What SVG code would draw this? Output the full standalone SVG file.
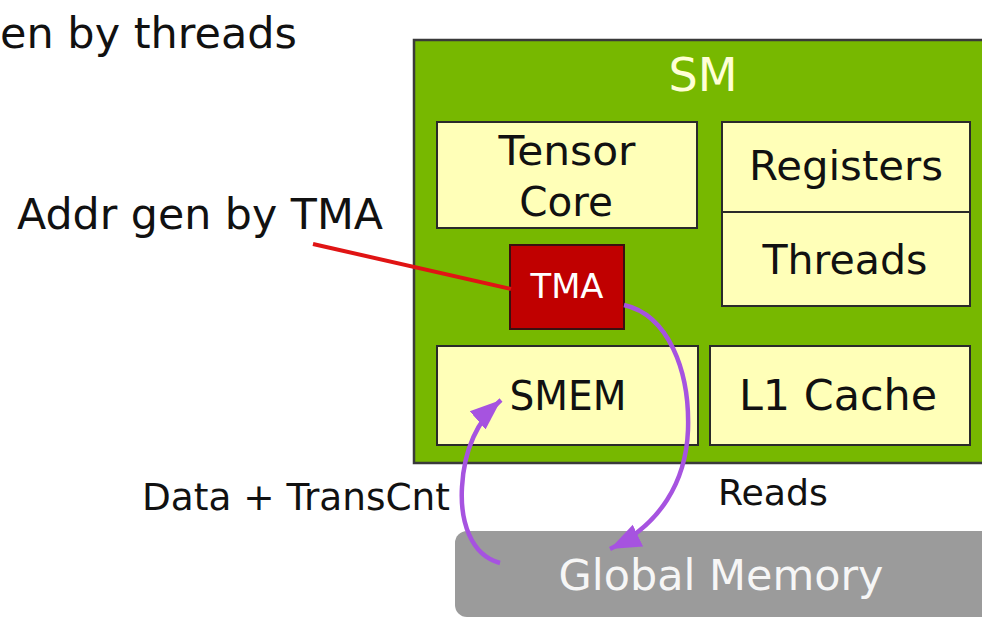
<svg xmlns="http://www.w3.org/2000/svg" width="982" height="618" viewBox="0 0 982 618">
<defs>
<style>
.t{font-family:"DejaVu Sans","Liberation Sans",sans-serif;fill:#111;}
.c{text-anchor:middle;}
.box{fill:#ffffb8;stroke:#2a2a2a;stroke-width:2;}
.arc{fill:none;stroke:#a653e0;stroke-width:4.5;}
</style>
<marker id="ah" markerUnits="userSpaceOnUse" markerWidth="34" markerHeight="34" viewBox="0 0 34 34" refX="31" refY="17" orient="auto">
<path d="M0,5 L31,17 L0,29 Z" fill="#a653e0"/>
</marker>
</defs>
<rect width="982" height="618" fill="#ffffff"/>

<g id="label-threads">
<text class="t" x="0" y="48" font-size="42.8" textLength="297" lengthAdjust="spacingAndGlyphs">en by threads</text>
</g>
<g id="label-tma">
<text class="t" x="17" y="229" font-size="42.6" textLength="366" lengthAdjust="spacingAndGlyphs">Addr gen by TMA</text>
</g>

<g id="sm">
<rect x="414" y="40" width="600" height="423" fill="#77b800" stroke="#3a3a3a" stroke-width="2.5"/>
<text class="t c" x="703" y="91" font-size="46" style="fill:#ffffd6" textLength="69" lengthAdjust="spacingAndGlyphs">SM</text>
</g>

<g id="tensor-core">
<rect class="box" x="437" y="122" width="260" height="106"/>
<text class="t c" x="567" y="165" font-size="40.5" textLength="137" lengthAdjust="spacingAndGlyphs">Tensor</text>
<text class="t c" x="566" y="216" font-size="40.5">Core</text>
</g>

<g id="registers">
<rect class="box" x="722" y="122" width="248" height="90"/>
<text class="t c" x="846" y="180" font-size="41" textLength="194" lengthAdjust="spacingAndGlyphs">Registers</text>
</g>
<g id="threads">
<rect class="box" x="722" y="212" width="248" height="94"/>
<text class="t c" x="845" y="274" font-size="41" textLength="165" lengthAdjust="spacingAndGlyphs">Threads</text>
</g>

<g id="tma">
<rect x="510" y="245" width="114" height="84" fill="#c00000" stroke="#3a1010" stroke-width="2"/>
<text class="t c" x="567" y="298" font-size="33.8" style="fill:#ffffff" textLength="73" lengthAdjust="spacingAndGlyphs">TMA</text>
</g>

<g id="smem">
<rect class="box" x="437" y="346" width="261" height="99"/>
<text class="t c" x="568" y="410" font-size="40" textLength="117" lengthAdjust="spacingAndGlyphs">SMEM</text>
</g>

<g id="l1-cache">
<rect class="box" x="710" y="346" width="260" height="99"/>
<text class="t c" x="838" y="410" font-size="42" textLength="198" lengthAdjust="spacingAndGlyphs">L1 Cache</text>
</g>

<g id="global-memory">
<rect x="455" y="531" width="540" height="86" rx="12" ry="12" fill="#9b9b9b"/>
<text class="t c" x="721" y="590" font-size="42.9" style="fill:#f6f6f6" textLength="325" lengthAdjust="spacingAndGlyphs">Global Memory</text>
</g>

<g id="label-data">
<text class="t" x="142" y="510" font-size="36.8" textLength="308" lengthAdjust="spacingAndGlyphs">Data + TransCnt</text>
</g>
<g id="label-reads">
<text class="t" x="718" y="505" font-size="35.7" textLength="110" lengthAdjust="spacingAndGlyphs">Reads</text>
</g>

<g id="connectors">
<line x1="313" y1="244" x2="511" y2="289" stroke="#e01414" stroke-width="4"/>
<path class="arc" d="M624,305 C668,315 690,370 688,430 C686,482 660,525 610,549" marker-end="url(#ah)"/>
<path class="arc" d="M500,563 C470,555 460,520 462,487 C464,450 478,420 501,400" marker-end="url(#ah)"/>
</g>
</svg>
